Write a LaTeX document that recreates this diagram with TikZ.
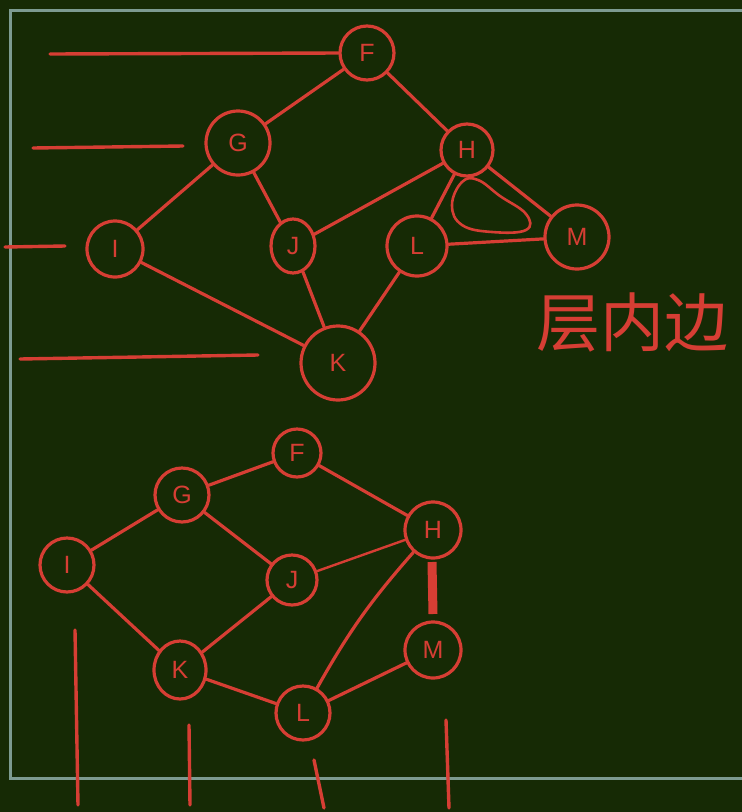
\documentclass[tikz,border=0pt]{standalone}
\usepackage{fontspec}
\setmainfont{Liberation Sans}
\newfontfamily\cjk{Noto Sans CJK SC}
\usetikzlibrary{shapes.geometric}
\definecolor{board}{RGB}{22,42,5}
\definecolor{chalk}{RGB}{214,62,52}
\definecolor{framec}{RGB}{125,155,145}
\tikzset{
  vtx/.style={circle,draw=chalk,line width=3.2pt,text=chalk,inner sep=0pt,
    font=\fontsize{25}{25}\selectfont},
  ovl/.style={ellipse,draw=chalk,line width=3.2pt,text=chalk,inner sep=0pt,
    font=\fontsize{25}{25}\selectfont},
  edge/.style={draw=chalk,line width=3.2pt,line cap=round},
  guide/.style={draw=chalk,line width=3.4pt,line cap=round},
  frameline/.style={draw=framec,line width=3pt}
}
\begin{document}
\begin{tikzpicture}[x=1pt,y=-1pt]
\fill[board] (0,0) rectangle (742,812);
\useasboundingbox (0,0) rectangle (742,812);
% frame
\draw[frameline] (742,10) -- (10,10) -- (10,778) -- (742,778);

% ---------- top graph ----------
\node[vtx,minimum size=54pt] (tF) at (367,53) {F};
\node[vtx,minimum size=64pt] (tG) at (238,143) {G};
\node[vtx,minimum size=52pt] (tH) at (467,150) {H};
\node[vtx,minimum size=56pt] (tI) at (115,249) {I};
\node[ovl,minimum width=44pt,minimum height=54pt] (tJ) at (293,246) {J};
\node[vtx,minimum size=60pt] (tL) at (417,246) {L};
\node[vtx,minimum size=64pt] (tM) at (577,237) {M};
\node[vtx,minimum size=74pt] (tK) at (338,363) {K};

\draw[edge] (tF) -- (tG);
\draw[edge] (tF) -- (tH);
\draw[edge] (tG) -- (tI);
\draw[edge] (tG) -- (tJ);
\draw[edge] (tJ) -- (tH);
\draw[edge] (tH) -- (tL);
\draw[edge] (tH) -- (tM);
\draw[edge] (tL) -- (tM);
\draw[edge] (tI) -- (tK);
\draw[edge] (tJ) -- (tK);
\draw[edge] (tL) -- (tK);
% loop inside triangle
\draw[edge,line width=2.6pt] plot[smooth cycle,tension=0.7] coordinates
  {(462,182) (452,205) (462,225) (492,232) (526,230) (526,214) (500,196) (478,180)};

% level lines (top)
\coordinate (l1) at (50,54);
\draw[guide] (l1) -- (tF.west);
\draw[guide] (33,148) -- (183,146);
\draw[guide] (5,247) -- (65,246);
\draw[guide] (20,359) -- (258,355);

\node[text=chalk,font=\cjk\fontsize{64}{64}\selectfont] (lab) at (632,322) {层内边};

% ---------- bottom graph ----------
\node[vtx,minimum size=48pt] (bF) at (297,453) {F};
\node[vtx,minimum size=54pt] (bG) at (182,495) {G};
\node[vtx,minimum size=56pt] (bH) at (433,530) {H};
\node[vtx,minimum size=54pt] (bI) at (67,565) {I};
\node[vtx,minimum size=50pt] (bJ) at (292,580) {J};
\node[ovl,minimum width=52pt,minimum height=58pt] (bK) at (180,670) {K};
\node[vtx,minimum size=56pt] (bM) at (433,650) {M};
\node[vtx,minimum size=54pt] (bL) at (303,713) {L};

\draw[edge] (bF) -- (bG);
\draw[edge] (bF) -- (bH);
\draw[edge] (bG) -- (bI);
\draw[edge] (bG) -- (bJ);
\draw[edge,line width=2.4pt] (bJ) -- (bH);
\draw[edge] (bI) -- (bK);
\draw[edge] (bJ) -- (bK);
\draw[edge] (bK) -- (bL);
\draw[edge] (bH) to[bend right=6] (bL);
\draw[edge] (bL) -- (bM);
\coordinate (hm1) at (432,562);
\coordinate (hm2) at (433,614);
\draw[draw=chalk,line width=9pt] (hm1) -- (hm2);

% level lines (bottom)
\draw[guide] (75,630) -- (78,805);
\draw[guide] (189,725) -- (190,805);
\draw[guide] (314,760) -- (324,808);
\draw[guide] (446,720) -- (449,808);
\end{tikzpicture}
\end{document}
